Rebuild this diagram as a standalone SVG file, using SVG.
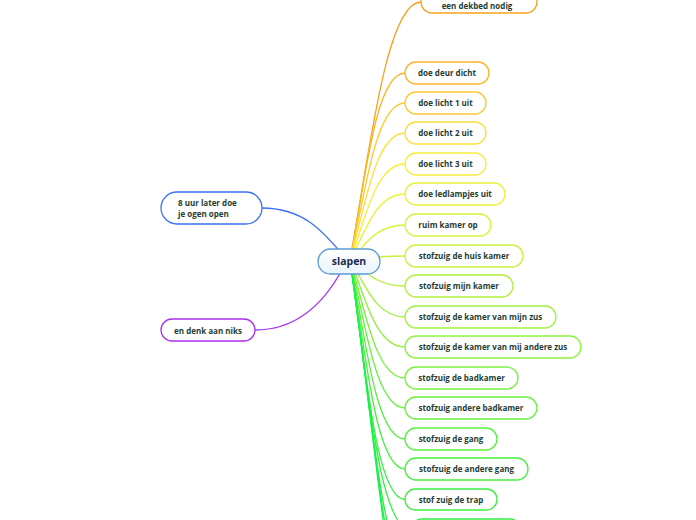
<svg xmlns="http://www.w3.org/2000/svg" width="696" height="520" viewBox="0 0 696 520">
<style>
.c{fill:none;stroke-width:1.3;stroke-linecap:round}
.n{fill:#ffffff;stroke-width:1.3}
.t{font-family:"Open Sans","Noto Sans","DejaVu Sans",sans-serif;font-weight:700;font-size:8px;fill:#1f3d33;text-anchor:middle}
.tl{text-anchor:start}
.ct{font-family:"Open Sans","Noto Sans","DejaVu Sans",sans-serif;font-weight:700;font-size:10.5px;fill:#1c2a4d;text-anchor:middle}
</style>
<defs>
<linearGradient id="cg" x1="0" y1="0" x2="0" y2="1">
<stop offset="0" stop-color="#ffffff"/>
<stop offset="1" stop-color="#eaf4fc"/>
</linearGradient>
</defs>
<rect width="696" height="520" fill="#ffffff"/>
<g id="connectors">
<path class="c" stroke="#3a6ff7" stroke-width="1.6" d="M342 254 C322 230,302 208,262 208"/>
<path class="c" stroke="#a733f0" stroke-width="1.6" d="M343 268 C326 300,300 330,255 330"/>
<path class="c" stroke="#f7a21b" d="M350 260 C369 156,386 2,421 2"/>
<path class="c" stroke="#fbb424" d="M350 260 C364.9 185,374.8 73,405 73"/>
<path class="c" stroke="#fdc830" d="M350 260 C364.9 197,374.8 103,405 103"/>
<path class="c" stroke="#fdde3c" d="M350 260 C364.9 209,374.8 133,405 133"/>
<path class="c" stroke="#f6ee3a" d="M350 260 C364.9 222,374.8 164,405 164"/>
<path class="c" stroke="#eaf23a" d="M350 260 C364.9 234,374.8 194,405 194"/>
<path class="c" stroke="#daf23a" d="M350 260 C364.9 246,374.8 225,405 225"/>
<path class="c" stroke="#c8f23a" d="M350 260 C364.9 258,374.8 256,405 256"/>
<path class="c" stroke="#b4f23a" d="M350 260 C364.9 270,374.8 286,405 286"/>
<path class="c" stroke="#a0f23e" d="M350 260 C364.9 283,374.8 317,405 317"/>
<path class="c" stroke="#8cf23e" d="M350 260 C364.9 295,374.8 347,405 347"/>
<path class="c" stroke="#78f23e" d="M350 260 C364.9 307,374.8 378,405 378"/>
<path class="c" stroke="#68f23e" d="M350 260 C364.9 319,374.8 408,405 408"/>
<path class="c" stroke="#58f03e" d="M350 260 C364.9 332,374.8 439,405 439"/>
<path class="c" stroke="#48f040" d="M350 260 C364.9 344,374.8 469,405 469"/>
<path class="c" stroke="#3cf040" d="M350 260 C364.9 356,374.8 499.5,405 499.5"/>
<path class="c" stroke="#30f040" d="M350 260 C366.5 368,377.5 530,411 530"/>
<path class="c" stroke="#28f048" d="M350 260 C368 380,382 560,405 560"/>
<path class="c" stroke="#20f04c" d="M350 260 C370 392,386 591,405 591"/>
<path class="c" stroke="#18f050" d="M350 260 C371 404,390 621,405 621"/>
</g>
<g id="node-slapen">
<rect x="318" y="249" width="62" height="25" rx="12.5" fill="url(#cg)" stroke="#5b9bd5" stroke-width="1.3"/>
<text class="ct" x="349" y="265">slapen</text>
</g>
<g id="node-8uur">
<rect class="n" x="161" y="192" width="101" height="32" rx="16" stroke="#3a6ff7"/>
<text class="t tl" x="178" y="206">8 uur later doe</text>
<text class="t tl" x="178" y="217">je ogen open</text>
</g>
<g id="node-niks">
<rect class="n" x="161" y="319" width="94" height="22" rx="11" stroke="#a733f0"/>
<text class="t" x="208" y="333.5">en denk aan niks</text>
</g>
<g id="node-dekbed">
<rect class="n" x="421" y="-9" width="116" height="22" rx="11" stroke="#f7a21b"/>
<text class="t" x="477" y="9">een dekbed  nodig</text>
</g>
<g id="node-deur">
<rect class="n" x="405" y="62" width="84" height="22" rx="11" stroke="#fbb424"/>
<text class="t" x="447" y="76">doe deur dicht</text>
</g>
<g id="node-licht1">
<rect class="n" x="405" y="92" width="81" height="22" rx="11" stroke="#fdc830"/>
<text class="t" x="445.5" y="106">doe licht 1 uit</text>
</g>
<g id="node-licht2">
<rect class="n" x="405" y="122" width="81" height="22" rx="11" stroke="#fdde3c"/>
<text class="t" x="445.5" y="136">doe licht 2 uit</text>
</g>
<g id="node-licht3">
<rect class="n" x="405" y="153" width="81" height="22" rx="11" stroke="#f6ee3a"/>
<text class="t" x="445.5" y="167">doe licht 3 uit</text>
</g>
<g id="node-ledlampjes">
<rect class="n" x="405" y="183" width="100" height="22" rx="11" stroke="#eaf23a"/>
<text class="t" x="455" y="197">doe ledlampjes uit</text>
</g>
<g id="node-ruim">
<rect class="n" x="405" y="214" width="86" height="22" rx="11" stroke="#daf23a"/>
<text class="t" x="448" y="228">ruim kamer op</text>
</g>
<g id="node-huiskamer">
<rect class="n" x="405" y="245" width="118" height="22" rx="11" stroke="#c8f23a"/>
<text class="t" x="464" y="259">stofzuig de huis kamer</text>
</g>
<g id="node-mijnkamer">
<rect class="n" x="405" y="275" width="108" height="22" rx="11" stroke="#b4f23a"/>
<text class="t" x="459" y="289">stofzuig mijn kamer</text>
</g>
<g id="node-zus">
<rect class="n" x="405" y="306" width="151" height="22" rx="11" stroke="#a0f23e"/>
<text class="t" x="480.5" y="320">stofzuig de kamer van mijn zus</text>
</g>
<g id="node-anderezus">
<rect class="n" x="405" y="336" width="176" height="22" rx="11" stroke="#8cf23e"/>
<text class="t" x="493" y="350">stofzuig de kamer van mij andere zus</text>
</g>
<g id="node-badkamer">
<rect class="n" x="405" y="367" width="113" height="22" rx="11" stroke="#78f23e"/>
<text class="t" x="461.5" y="381">stofzuig de badkamer</text>
</g>
<g id="node-anderebadkamer">
<rect class="n" x="405" y="397" width="132" height="22" rx="11" stroke="#68f23e"/>
<text class="t" x="471" y="411">stofzuig andere badkamer</text>
</g>
<g id="node-gang">
<rect class="n" x="405" y="428" width="92" height="22" rx="11" stroke="#58f03e"/>
<text class="t" x="451" y="442">stofzuig de gang</text>
</g>
<g id="node-anderegang">
<rect class="n" x="405" y="458" width="123" height="22" rx="11" stroke="#48f040"/>
<text class="t" x="466.5" y="472">stofzuig de andere gang</text>
</g>
<g id="node-trap">
<rect class="n" x="405" y="489" width="92" height="21" rx="10.5" stroke="#3cf040"/>
<text class="t" x="451" y="502.5">stof zuig de trap</text>
</g>
<g id="node-next">
<rect class="n" x="411" y="519" width="110" height="22" rx="11" stroke="#30f040"/>
</g>
</svg>
